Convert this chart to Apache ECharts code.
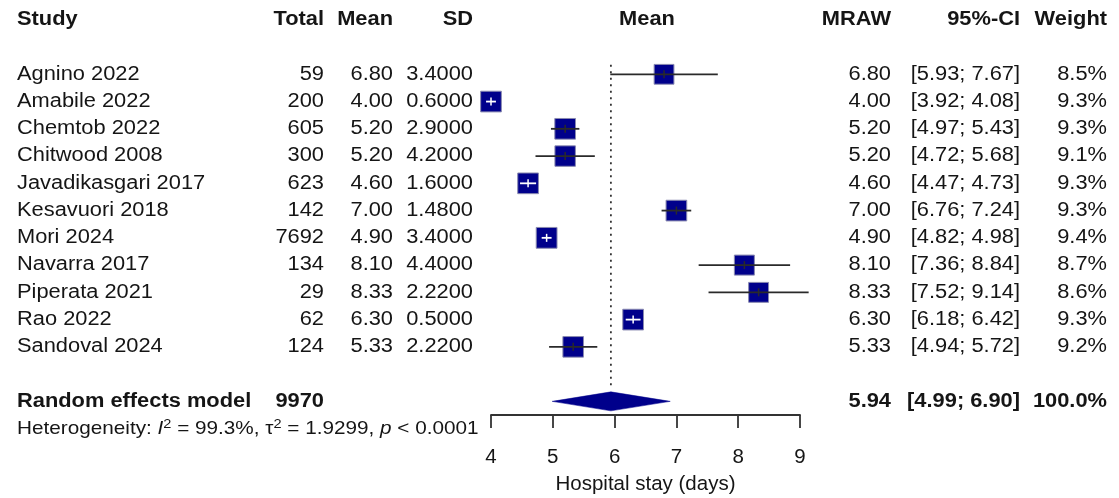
<!DOCTYPE html>
<html>
<head>
<meta charset="utf-8">
<script src="https://cdn.jsdelivr.net/npm/echarts@6/dist/echarts.min.js"></script>
<style>
  html, body { margin: 0; padding: 0; background: #fff; }
  #chart { width: 1119px; height: 498px; }
</style>
</head>
<body>
<div id="chart"></div>
<script>
// ---------------- data ----------------
const studies = ['Agnino 2022','Amabile 2022','Chemtob 2022','Chitwood 2008','Javadikasgari 2017','Kesavuori 2018','Mori 2024','Navarra 2017','Piperata 2021','Rao 2022','Sandoval 2024'];
const totals  = [59, 200, 605, 300, 623, 142, 7692, 134, 29, 62, 124];
const means   = [6.80, 4.00, 5.20, 5.20, 4.60, 7.00, 4.90, 8.10, 8.33, 6.30, 5.33];
const sds     = [3.4, 0.6, 2.9, 4.2, 1.6, 1.48, 3.4, 4.4, 2.22, 0.5, 2.22];
const lowers  = [5.93, 3.92, 4.97, 4.72, 4.47, 6.76, 4.82, 7.36, 7.52, 6.18, 4.94];
const uppers  = [7.67, 4.08, 5.43, 5.68, 4.73, 7.24, 4.98, 8.84, 9.14, 6.42, 5.72];
const weights = [8.5, 9.3, 9.3, 9.1, 9.3, 9.3, 9.4, 8.7, 8.6, 9.3, 9.2];
const pooled  = { label: 'Random effects model', total: 9970, mean: 5.94, lower: 4.99, upper: 6.90, weight: 100.0 };
const heterogeneity = { I2: '99.3%', tau2: '1.9299', p: '< 0.0001' };
const xTicks = [4, 5, 6, 7, 8, 9];
const headers = { study: 'Study', total: 'Total', mean: 'Mean', sd: 'SD', plot: 'Mean', mraw: 'MRAW', ci: '95%-CI', weight: 'Weight' };
const xTitle = 'Hospital stay (days)';

// ---------------- layout / style ----------------
const FONT = "'Liberation Sans', Arial, Helvetica, sans-serif";
const SX = 1.12;           // horizontal stretch of the reference text
const FS = 19.5;
const TXT = '#151515';
const NAVY = '#00008B';
const ROW_HEADER = -2, ROW_POOLED = 12, ROW_HET = 13;
const COL = { study: 17, total: 324, mean: 393, sd: 473, plot: 647, mraw: 891, ci: 1020, weight: 1107 };

const chart = echarts.init(document.getElementById('chart'), null, { renderer: 'canvas' });

function txt(x, y, text, align, bold, size) {
  return {
    type: 'text', x: x, y: y, scaleX: SX,
    style: {
      text: text, align: align, verticalAlign: 'middle',
      font: (bold ? 'bold ' : '') + (size || FS) + 'px ' + FONT,
      fill: TXT
    }
  };
}

// table rows: header, studies, pooled, heterogeneity
const tableRows = [{ kind: 'header', row: ROW_HEADER }]
  .concat(studies.map((s, i) => ({ kind: 'study', row: i, i: i })))
  .concat([{ kind: 'pooled', row: ROW_POOLED }, { kind: 'het', row: ROW_HET }]);

const option = {
  animation: false,
  backgroundColor: '#fff',
  grid: { left: 491, right: 319, top: 19.8, height: 395.2, containLabel: false, outerBoundsMode: 'none' },
  xAxis: {
    type: 'value', min: xTicks[0], max: xTicks[xTicks.length - 1], interval: 1, position: 'bottom',
    axisLine: { show: true, onZero: false, lineStyle: { color: '#333', width: 1.8 } },
    axisTick: { show: true, length: 13, inside: false, lineStyle: { color: '#333', width: 1.8 } },
    axisLabel: { margin: 32, fontSize: 20.5, fontFamily: FONT, color: TXT },
    splitLine: { show: false },
    name: xTitle, nameLocation: 'middle', nameGap: 59,
    nameTextStyle: { fontSize: 20.5, fontFamily: FONT, color: TXT }
  },
  yAxis: { type: 'value', min: -2, max: 12.5, inverse: true, show: false },
  series: [
    // dotted reference line at pooled estimate
    {
      type: 'custom', silent: true, clip: false,
      data: [[pooled.mean, 0]],
      renderItem: function (params, api) {
        const top = api.coord([api.value(0), -0.35]);
        const bot = api.coord([api.value(0), 11.48]);
        return { type: 'line', shape: { x1: top[0], y1: top[1], x2: bot[0], y2: bot[1] },
          style: { stroke: '#333', lineWidth: 1.8, lineDash: [2, 4.5] } };
      }
    },
    // study squares + CIs
    {
      type: 'custom', silent: true, clip: false,
      data: studies.map((s, i) => [means[i], i, lowers[i], uppers[i], weights[i]]),
      renderItem: function (params, api) {
        const c = api.coord([api.value(0), api.value(1)]);
        const l = api.coord([api.value(2), api.value(1)]);
        const u = api.coord([api.value(3), api.value(1)]);
        const side = 20.8 * Math.sqrt(api.value(4) / 9.4);
        const inside = (u[0] - l[0]) <= side;
        const lc = inside ? '#ffffff' : '#2a2a2a';
        return {
          type: 'group',
          children: [
            { type: 'rect', shape: { x: c[0] - side / 2, y: c[1] - side / 2, width: side, height: side },
              style: { fill: NAVY, stroke: '#8a8ab0', lineWidth: 1 } },
            { type: 'line', shape: { x1: l[0], y1: c[1], x2: u[0], y2: c[1] },
              style: { stroke: lc, lineWidth: 1.8 } },
            { type: 'line', shape: { x1: c[0], y1: c[1] - 4, x2: c[0], y2: c[1] + 4 },
              style: { stroke: lc, lineWidth: 1.5 } }
          ]
        };
      }
    },
    // pooled diamond
    {
      type: 'custom', silent: true, clip: false,
      data: [[pooled.mean, ROW_POOLED, pooled.lower, pooled.upper]],
      renderItem: function (params, api) {
        const c = api.coord([api.value(0), api.value(1)]);
        const l = api.coord([api.value(2), api.value(1)]);
        const u = api.coord([api.value(3), api.value(1)]);
        const h = 9.5;
        return { type: 'polygon',
          shape: { points: [[l[0], c[1]], [c[0], c[1] - h], [u[0], c[1]], [c[0], c[1] + h]] },
          style: { fill: NAVY, stroke: NAVY, lineWidth: 0.5 } };
      }
    },
    // text table
    {
      type: 'custom', silent: true, clip: false,
      data: tableRows.map(r => [xTicks[0], r.row]),
      renderItem: function (params, api) {
        const r = tableRows[params.dataIndex];
        const y = api.coord([xTicks[0], r.row])[1];
        const ch = [];
        if (r.kind === 'header') {
          ch.push(txt(COL.study, y, headers.study, 'left', true));
          ch.push(txt(COL.total, y, headers.total, 'right', true));
          ch.push(txt(COL.mean, y, headers.mean, 'right', true));
          ch.push(txt(COL.sd, y, headers.sd, 'right', true));
          ch.push(txt(COL.plot, y, headers.plot, 'center', true));
          ch.push(txt(COL.mraw, y, headers.mraw, 'right', true));
          ch.push(txt(COL.ci, y, headers.ci, 'right', true));
          ch.push(txt(COL.weight, y, headers.weight, 'right', true));
        } else if (r.kind === 'study') {
          const i = r.i;
          ch.push(txt(COL.study, y, studies[i], 'left', false));
          ch.push(txt(COL.total, y, String(totals[i]), 'right', false));
          ch.push(txt(COL.mean, y, means[i].toFixed(2), 'right', false));
          ch.push(txt(COL.sd, y, sds[i].toFixed(4), 'right', false));
          ch.push(txt(COL.mraw, y, means[i].toFixed(2), 'right', false));
          ch.push(txt(COL.ci, y, '[' + lowers[i].toFixed(2) + '; ' + uppers[i].toFixed(2) + ']', 'right', false));
          ch.push(txt(COL.weight, y, weights[i].toFixed(1) + '%', 'right', false));
        } else if (r.kind === 'pooled') {
          ch.push(txt(COL.study, y, pooled.label, 'left', true));
          ch.push(txt(COL.total, y, String(pooled.total), 'right', true));
          ch.push(txt(COL.mraw, y, pooled.mean.toFixed(2), 'right', true));
          ch.push(txt(COL.ci, y, '[' + pooled.lower.toFixed(2) + '; ' + pooled.upper.toFixed(2) + ']', 'right', true));
          ch.push(txt(COL.weight, y, pooled.weight.toFixed(1) + '%', 'right', true));
        } else if (r.kind === 'het') {
          const f = 18.5;
          ch.push({
            type: 'text', x: COL.study, y: y, scaleX: SX,
            style: {
              text: '{a|Heterogeneity: }{i|I}{s|2}{a| = ' + heterogeneity.I2 + ', τ}{s|2}{a| = ' + heterogeneity.tau2 + ', }{i|p}{a| ' + heterogeneity.p + '}',
              align: 'left', verticalAlign: 'middle', fill: TXT,
              rich: {
                a: { fontSize: f, fontFamily: FONT, color: TXT, lineHeight: 22 },
                i: { fontSize: f, fontFamily: FONT, fontStyle: 'italic', color: TXT, lineHeight: 22 },
                s: { fontSize: 13, fontFamily: FONT, color: TXT, lineHeight: 22, verticalAlign: 'top' }
              }
            }
          });
        }
        return { type: 'group', children: ch };
      }
    }
  ]
};
chart.setOption(option);
</script>
</body>
</html>
